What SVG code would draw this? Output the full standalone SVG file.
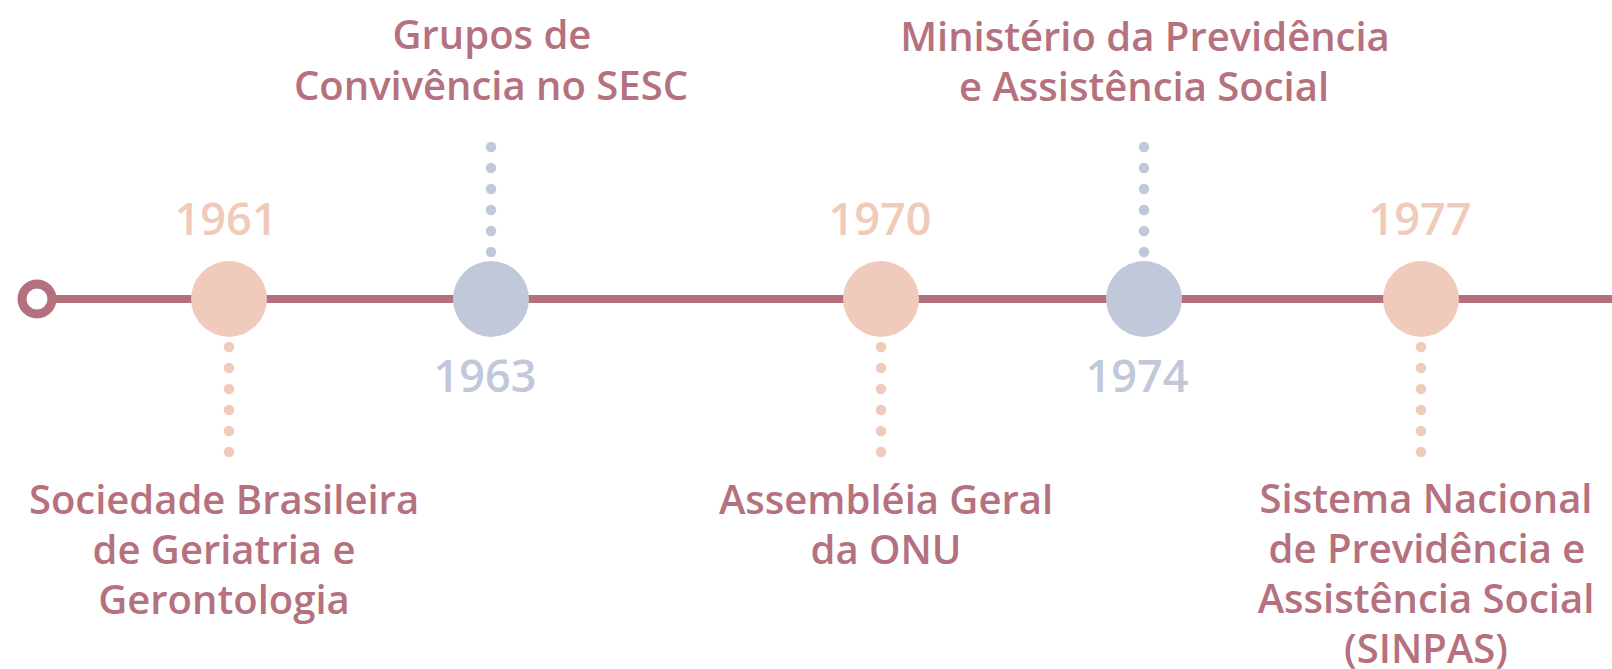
<svg xmlns="http://www.w3.org/2000/svg" width="1612" height="669" viewBox="0 0 1612 669">
<style>
.lbl{font-family:"Open Sans","Noto Sans",sans-serif;font-weight:600;font-size:40px;fill:#B5717D;text-anchor:middle}
.yr{font-family:"Open Sans","Noto Sans",sans-serif;font-weight:600;font-size:45px;text-anchor:middle}
.pe{fill:#F0CABB}
.sl{fill:#C1C8D9}
.dp{stroke:#F0CABB;stroke-width:10.5;stroke-linecap:round;stroke-dasharray:0 21;fill:none}
.ds{stroke:#C1C8D9;stroke-width:10.5;stroke-linecap:round;stroke-dasharray:0 21;fill:none}
</style>
<rect width="1612" height="669" fill="#FFFFFF"/>
<g id="connectors">
<line x1="52" y1="299" x2="1612" y2="299" stroke="#B4707C" stroke-width="8"/>
<line class="dp" x1="229" y1="347" x2="229" y2="453"/>
<line class="ds" x1="491" y1="147" x2="491" y2="253"/>
<line class="dp" x1="881" y1="347" x2="881" y2="453"/>
<line class="ds" x1="1144" y1="147" x2="1144" y2="253"/>
<line class="dp" x1="1421" y1="347" x2="1421" y2="453"/>
</g>
<g id="start"><circle cx="37" cy="299" r="15" fill="#FFFFFF" stroke="#B4707C" stroke-width="9"/></g>
<g id="n1961">
<circle class="pe" cx="229" cy="299" r="38"/>
<text class="yr pe" x="226" y="235">1961</text>
<text class="lbl" x="224" y="514">Sociedade Brasileira</text>
<text class="lbl" x="224" y="564">de Geriatria e</text>
<text class="lbl" x="224" y="614">Gerontologia</text>
</g>
<g id="n1963">
<circle class="sl" cx="491" cy="299" r="38"/>
<text class="yr sl" x="485" y="392">1963</text>
<text class="lbl" x="492" y="49">Grupos de</text>
<text class="lbl" x="491" y="100">Convivência no SESC</text>
</g>
<g id="n1970">
<circle class="pe" cx="881" cy="299" r="38"/>
<text class="yr pe" x="880" y="235">1970</text>
<text class="lbl" x="886" y="514">Assembléia Geral</text>
<text class="lbl" x="886" y="564">da ONU</text>
</g>
<g id="n1974">
<circle class="sl" cx="1144" cy="299" r="38"/>
<text class="yr sl" x="1137" y="392">1974</text>
<text class="lbl" x="1145" y="51">Ministério da Previdência</text>
<text class="lbl" x="1144" y="101">e Assistência Social</text>
</g>
<g id="n1977">
<circle class="pe" cx="1421" cy="299" r="38"/>
<text class="yr pe" x="1420" y="235">1977</text>
<text class="lbl" x="1426" y="513">Sistema Nacional</text>
<text class="lbl" x="1427" y="563">de Previdência e</text>
<text class="lbl" x="1426" y="613">Assistência Social</text>
<text class="lbl" x="1426" y="663">(SINPAS)</text>
</g>
</svg>
